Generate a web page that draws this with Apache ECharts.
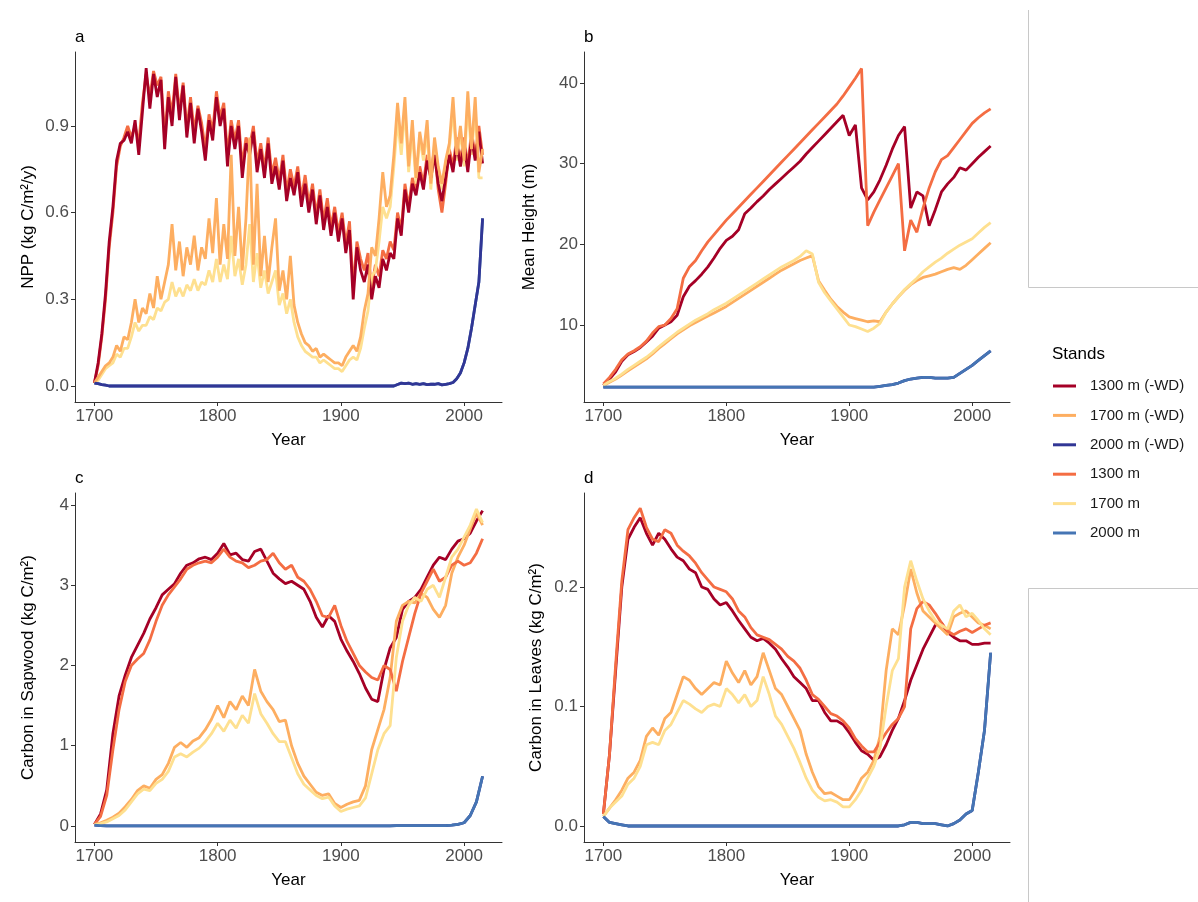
<!DOCTYPE html>
<html lang="en">
<head>
<meta charset="UTF-8">
<title>Stands</title>
<script src="https://cdn.jsdelivr.net/npm/echarts@6/dist/echarts.min.js"></script>
<style>
  * { padding: 0; margin: 0; }
  html, body { width: 100%; height: 100%; background: #fff; }
  #chart { width: 1198px; height: 902px; }
</style>
</head>
<body>
<div id="chart"></div>
<script>
// NPP panel is sampled every 3 years, the others every 5 years
var yearsA = [
  1700, 1703, 1706, 1709, 1712, 1715, 1718, 1721, 1724, 1727,
  1730, 1733, 1736, 1739, 1742, 1745, 1748, 1751, 1754, 1757,
  1760, 1763, 1766, 1769, 1772, 1775, 1778, 1781, 1784, 1787,
  1790, 1793, 1796, 1799, 1802, 1805, 1808, 1811, 1814, 1817,
  1820, 1823, 1826, 1829, 1832, 1835, 1838, 1841, 1844, 1847,
  1850, 1853, 1856, 1859, 1862, 1865, 1868, 1871, 1874, 1877,
  1880, 1883, 1886, 1889, 1892, 1895, 1898, 1901, 1904, 1907,
  1910, 1913, 1916, 1919, 1922, 1925, 1928, 1931, 1934, 1937,
  1940, 1943, 1946, 1949, 1952, 1955, 1958, 1961, 1964, 1967,
  1970, 1973, 1976, 1979, 1982, 1985, 1988, 1991, 1994, 1997,
  2000, 2003, 2006, 2009, 2012, 2015
];
var years = [
  1700, 1705, 1710, 1715, 1720, 1725, 1730, 1735, 1740, 1745,
  1750, 1755, 1760, 1765, 1770, 1775, 1780, 1785, 1790, 1795,
  1800, 1805, 1810, 1815, 1820, 1825, 1830, 1835, 1840, 1845,
  1850, 1855, 1860, 1865, 1870, 1875, 1880, 1885, 1890, 1895,
  1900, 1905, 1910, 1915, 1920, 1925, 1930, 1935, 1940, 1945,
  1950, 1955, 1960, 1965, 1970, 1975, 1980, 1985, 1990, 1995,
  2000, 2005, 2010, 2015
];
var stands = ['1300 m (-WD)', '1700 m (-WD)', '2000 m (-WD)', '1300 m', '1700 m', '2000 m'];
var colors = ['#A50026', '#FDAE61', '#313695', '#F46D43', '#FEE090', '#4575B4'];
var xTicks = [1700, 1800, 1900, 2000];

// a: NPP (kg C/m2/y), 3-year steps
var nppWD1300 = [
  0.01, 0.08, 0.18, 0.32, 0.50, 0.62, 0.78, 0.84, 0.85, 0.88,
  0.84, 0.92, 0.80, 0.95, 1.10, 0.96, 1.08, 1.00, 1.06, 0.82,
  1.00, 0.90, 1.07, 0.92, 1.04, 0.86, 0.98, 0.84, 0.96, 0.88,
  0.78, 0.92, 0.85, 1.00, 0.90, 0.96, 0.76, 0.90, 0.82, 0.90,
  0.72, 0.84, 0.80, 0.88, 0.74, 0.82, 0.72, 0.84, 0.70, 0.76,
  0.68, 0.78, 0.64, 0.72, 0.66, 0.74, 0.62, 0.70, 0.60, 0.68,
  0.56, 0.66, 0.54, 0.62, 0.52, 0.60, 0.50, 0.58, 0.46, 0.54,
  0.30, 0.48, 0.40, 0.36, 0.42, 0.30, 0.38, 0.34, 0.44, 0.40,
  0.46, 0.44, 0.58, 0.52, 0.68, 0.60, 0.70, 0.66, 0.74, 0.68,
  0.78, 0.72, 0.80, 0.70, 0.64, 0.72, 0.80, 0.74, 0.84, 0.76,
  0.84, 0.74, 0.86, 0.78, 0.88, 0.77
];
var nppWD1700 = [
  0.01, 0.03, 0.05, 0.07, 0.08, 0.10, 0.14, 0.12, 0.17, 0.16,
  0.22, 0.30, 0.22, 0.27, 0.25, 0.32, 0.27, 0.38, 0.30, 0.36,
  0.42, 0.56, 0.40, 0.50, 0.38, 0.48, 0.42, 0.52, 0.40, 0.48,
  0.44, 0.58, 0.46, 0.65, 0.42, 0.56, 0.44, 0.80, 0.45, 0.62,
  0.40, 0.58, 0.86, 0.42, 0.70, 0.38, 0.52, 0.36, 0.48, 0.58,
  0.33, 0.40, 0.30, 0.45, 0.28, 0.22, 0.18, 0.15, 0.14, 0.12,
  0.13, 0.10, 0.11, 0.10, 0.09, 0.08, 0.08, 0.07, 0.10, 0.12,
  0.14, 0.12, 0.17, 0.26, 0.32, 0.48, 0.45, 0.58, 0.74, 0.62,
  0.66, 0.80, 0.98, 0.84, 1.00, 0.76, 0.92, 0.72, 0.88, 0.80,
  0.92, 0.70, 0.86, 0.76, 0.70, 0.78, 0.84, 1.00, 0.80, 0.90,
  0.78, 1.02, 0.82, 1.00, 0.74, 0.82
];
var nppWD2000 = [
  0.01, 0.008, 0.005, 0.003, 0, 0, 0, 0, 0, 0,
  0, 0, 0, 0, 0, 0, 0, 0, 0, 0,
  0, 0, 0, 0, 0, 0, 0, 0, 0, 0,
  0, 0, 0, 0, 0, 0, 0, 0, 0, 0,
  0, 0, 0, 0, 0, 0, 0, 0, 0, 0,
  0, 0, 0, 0, 0, 0, 0, 0, 0, 0,
  0, 0, 0, 0, 0, 0, 0, 0, 0, 0,
  0, 0, 0, 0, 0, 0, 0, 0, 0, 0,
  0, 0, 0.005, 0.01, 0.008, 0.01, 0.006, 0.008, 0.006, 0.008,
  0.005, 0.006, 0.006, 0.008, 0.004, 0.006, 0.008, 0.012, 0.025, 0.045,
  0.08, 0.13, 0.20, 0.28, 0.36, 0.58
];
var npp1300 = [
  0.01, 0.07, 0.17, 0.30, 0.48, 0.60, 0.76, 0.83, 0.86, 0.90,
  0.86, 0.90, 0.84, 0.98, 1.08, 1.00, 1.09, 1.04, 1.07, 0.86,
  1.02, 0.94, 1.08, 0.95, 1.05, 0.89, 1.00, 0.88, 0.97, 0.91,
  0.82, 0.94, 0.88, 1.02, 0.93, 0.98, 0.80, 0.92, 0.85, 0.92,
  0.76, 0.86, 0.83, 0.90, 0.77, 0.84, 0.75, 0.86, 0.73, 0.79,
  0.71, 0.80, 0.67, 0.75, 0.69, 0.76, 0.65, 0.73, 0.63, 0.70,
  0.59, 0.68, 0.57, 0.65, 0.55, 0.62, 0.53, 0.60, 0.49, 0.57,
  0.34, 0.50, 0.44, 0.40, 0.46, 0.34, 0.42, 0.38, 0.47, 0.44,
  0.50, 0.47, 0.60, 0.54, 0.70, 0.62, 0.72, 0.68, 0.76, 0.70,
  0.80, 0.74, 0.82, 0.68, 0.60, 0.70, 0.82, 0.76, 0.86, 0.78,
  0.86, 0.76, 0.88, 0.80, 0.90, 0.80
];
var npp1700 = [
  0.01, 0.02, 0.04, 0.06, 0.07, 0.08, 0.11, 0.10, 0.13, 0.13,
  0.17, 0.22, 0.19, 0.21, 0.21, 0.24, 0.23, 0.27, 0.26, 0.29,
  0.30, 0.36, 0.31, 0.34, 0.31, 0.35, 0.33, 0.37, 0.33, 0.36,
  0.35, 0.40, 0.36, 0.44, 0.36, 0.42, 0.37, 0.52, 0.38, 0.44,
  0.35, 0.42, 0.56, 0.36, 0.46, 0.34, 0.40, 0.32, 0.36, 0.40,
  0.28, 0.32, 0.25, 0.30, 0.22, 0.17, 0.14, 0.12, 0.11, 0.10,
  0.10, 0.08, 0.09, 0.08, 0.07, 0.06, 0.06, 0.05, 0.07, 0.09,
  0.10, 0.09, 0.13, 0.20, 0.26, 0.38, 0.40, 0.50, 0.62, 0.58,
  0.62, 0.76, 0.92, 0.80, 0.96, 0.74, 0.88, 0.70, 0.86, 0.78,
  0.88, 0.68, 0.84, 0.74, 0.68, 0.76, 0.82, 0.96, 0.78, 0.88,
  0.76, 0.98, 0.80, 0.96, 0.72, 0.72
];
var npp2000 = [
  0.01, 0.008, 0.005, 0.003, 0, 0, 0, 0, 0, 0,
  0, 0, 0, 0, 0, 0, 0, 0, 0, 0,
  0, 0, 0, 0, 0, 0, 0, 0, 0, 0,
  0, 0, 0, 0, 0, 0, 0, 0, 0, 0,
  0, 0, 0, 0, 0, 0, 0, 0, 0, 0,
  0, 0, 0, 0, 0, 0, 0, 0, 0, 0,
  0, 0, 0, 0, 0, 0, 0, 0, 0, 0,
  0, 0, 0, 0, 0, 0, 0, 0, 0, 0,
  0, 0, 0.005, 0.01, 0.008, 0.01, 0.006, 0.008, 0.006, 0.008,
  0.005, 0.006, 0.006, 0.008, 0.004, 0.006, 0.008, 0.012, 0.025, 0.045,
  0.08, 0.13, 0.20, 0.28, 0.36, 0.58
];

// b: mean height (m)
var hgtWD1300 = [
  2.5, 3.3, 4.2, 5.5, 6.3, 6.7, 7.2, 7.9, 8.6, 9.6,
  10.0, 10.4, 11.2, 13.5, 14.8, 15.5, 16.3, 17.2, 18.3, 19.5,
  20.5, 21.0, 21.8, 23.8, 24.5, 25.3, 26.0, 26.8, 27.5, 28.2,
  28.9, 29.6, 30.3, 31.2, 32.0, 32.8, 33.6, 34.4, 35.2, 36.0,
  33.5, 34.8, 27.0, 25.5, 26.5, 28.0, 29.8, 31.8, 33.5, 34.6,
  24.5, 26.5, 26.0, 22.3, 24.3, 26.5, 27.5, 28.3, 29.5, 29.2,
  30.0, 30.8, 31.5, 32.2
];
var hgtWD1700 = [
  2.5, 2.9, 3.3, 3.8, 4.3, 4.8, 5.3, 5.8, 6.4, 7.1,
  7.7, 8.3, 8.9, 9.4, 9.9, 10.3, 10.7, 11.1, 11.5, 11.9,
  12.3, 12.8, 13.3, 13.8, 14.3, 14.8, 15.3, 15.8, 16.3, 16.8,
  17.2, 17.6, 18.0, 18.3, 18.6, 15.5, 14.3, 13.2, 12.3, 11.6,
  11.0, 10.8, 10.6, 10.4, 10.5, 10.4, 11.6, 12.6, 13.5, 14.3,
  15.0, 15.5, 15.9, 16.1, 16.3, 16.6, 16.9, 17.1, 16.9, 17.4,
  18.1, 18.8, 19.5, 20.2
];
var hgtWD2000 = [
  2.3, 2.3, 2.3, 2.3, 2.3, 2.3, 2.3, 2.3, 2.3, 2.3,
  2.3, 2.3, 2.3, 2.3, 2.3, 2.3, 2.3, 2.3, 2.3, 2.3,
  2.3, 2.3, 2.3, 2.3, 2.3, 2.3, 2.3, 2.3, 2.3, 2.3,
  2.3, 2.3, 2.3, 2.3, 2.3, 2.3, 2.3, 2.3, 2.3, 2.3,
  2.3, 2.3, 2.3, 2.3, 2.3, 2.4, 2.5, 2.6, 2.8, 3.1,
  3.3, 3.4, 3.5, 3.5, 3.4, 3.4, 3.4, 3.5, 4.0, 4.5,
  5.0, 5.6, 6.2, 6.8
];
var hgt1300 = [
  2.7, 3.5, 4.5, 5.7, 6.4, 6.8, 7.3, 8.0, 9.0, 9.8,
  10.0, 10.8, 12.0, 15.8, 17.2, 18.0, 19.2, 20.3, 21.2, 22.1,
  23.0, 23.8, 24.6, 25.4, 26.2, 27.0, 27.8, 28.6, 29.4, 30.2,
  31.0, 31.8, 32.6, 33.4, 34.2, 35.0, 35.8, 36.6, 37.4, 38.4,
  39.5, 40.6, 41.8, 22.3, 24.0, 25.5, 27.0, 28.5, 30.0, 19.2,
  23.0, 21.5, 24.5, 27.0, 29.0, 30.5, 31.0, 32.0, 33.0, 34.0,
  35.0, 35.7, 36.3, 36.8
];
var hgt1700 = [
  2.5, 3.0, 3.4, 3.9, 4.5, 5.0, 5.5, 6.0, 6.6, 7.3,
  7.9, 8.5, 9.1, 9.6, 10.1, 10.6, 11.0, 11.4, 11.9, 12.3,
  12.7, 13.2, 13.7, 14.2, 14.7, 15.2, 15.7, 16.2, 16.7, 17.2,
  17.6, 18.0, 18.5, 19.2, 18.8, 15.3, 14.0, 13.0, 12.0, 11.0,
  10.0, 9.8, 9.5, 9.2, 9.6, 10.2, 11.6, 12.6, 13.5, 14.4,
  15.1, 15.8, 16.6, 17.2, 17.8, 18.3, 18.9, 19.4, 19.9, 20.3,
  20.7, 21.4, 22.1, 22.7
];
var hgt2000 = [
  2.3, 2.3, 2.3, 2.3, 2.3, 2.3, 2.3, 2.3, 2.3, 2.3,
  2.3, 2.3, 2.3, 2.3, 2.3, 2.3, 2.3, 2.3, 2.3, 2.3,
  2.3, 2.3, 2.3, 2.3, 2.3, 2.3, 2.3, 2.3, 2.3, 2.3,
  2.3, 2.3, 2.3, 2.3, 2.3, 2.3, 2.3, 2.3, 2.3, 2.3,
  2.3, 2.3, 2.3, 2.3, 2.3, 2.4, 2.5, 2.6, 2.8, 3.1,
  3.3, 3.4, 3.5, 3.5, 3.4, 3.4, 3.4, 3.5, 4.0, 4.5,
  5.0, 5.6, 6.2, 6.8
];

// c: carbon in sapwood (kg C/m2)
var sapWD1300 = [
  0.02, 0.15, 0.45, 1.15, 1.62, 1.88, 2.10, 2.25, 2.40, 2.58,
  2.72, 2.88, 2.95, 3.02, 3.15, 3.25, 3.28, 3.33, 3.35, 3.32,
  3.40, 3.52, 3.38, 3.40, 3.32, 3.30, 3.42, 3.45, 3.30, 3.15,
  3.08, 3.02, 3.05, 3.00, 2.95, 2.80, 2.60, 2.48, 2.62, 2.55,
  2.33, 2.18, 2.05, 1.90, 1.72, 1.58, 1.55, 1.95, 2.22, 2.35,
  2.70, 2.80, 2.85, 2.95, 3.10, 3.25, 3.35, 3.32, 3.45, 3.55,
  3.58, 3.65, 3.80, 3.93
];
var sapWD1700 = [
  0.02, 0.04, 0.07, 0.11, 0.16, 0.24, 0.33, 0.44, 0.50, 0.47,
  0.58, 0.64, 0.78, 0.98, 1.04, 0.98, 1.06, 1.10, 1.20, 1.33,
  1.50, 1.35, 1.55, 1.45, 1.62, 1.50, 1.95, 1.68, 1.55, 1.45,
  1.30, 1.32, 1.00, 0.78, 0.62, 0.52, 0.42, 0.38, 0.40, 0.28,
  0.23, 0.27, 0.30, 0.32, 0.50, 0.95, 1.20, 1.45, 1.85, 2.55,
  2.75, 2.80, 2.78, 2.90, 2.85, 2.70, 2.60, 2.75, 3.15, 3.35,
  3.50, 3.70, 3.90, 3.75
];
var sapWD2000 = [
  0.01, 0.005, 0, 0, 0, 0, 0, 0, 0, 0,
  0, 0, 0, 0, 0, 0, 0, 0, 0, 0,
  0, 0, 0, 0, 0, 0, 0, 0, 0, 0,
  0, 0, 0, 0, 0, 0, 0, 0, 0, 0,
  0, 0, 0, 0, 0, 0, 0, 0, 0, 0.005,
  0.005, 0.005, 0.005, 0.005, 0.005, 0.005, 0.005, 0.005, 0.01, 0.02,
  0.04, 0.13, 0.30, 0.62
];
var sap1300 = [
  0.02, 0.12, 0.38, 0.95, 1.45, 1.80, 2.00, 2.08, 2.15, 2.32,
  2.55, 2.75, 2.88, 2.98, 3.08, 3.20, 3.25, 3.28, 3.30, 3.28,
  3.35, 3.45, 3.35, 3.30, 3.28, 3.22, 3.25, 3.30, 3.32, 3.40,
  3.28, 3.20, 3.25, 3.10, 3.05, 2.95, 2.80, 2.62, 2.60, 2.75,
  2.50, 2.30, 2.15, 2.00, 1.92, 1.85, 1.82, 2.00, 1.95, 1.68,
  2.05, 2.35, 2.65, 2.90, 3.05, 3.20, 3.05, 3.10, 3.25, 3.30,
  3.25, 3.28, 3.40, 3.58
];
var sap1700 = [
  0.02, 0.03, 0.05, 0.09, 0.13, 0.20, 0.30, 0.40, 0.46, 0.44,
  0.53, 0.58, 0.68, 0.86, 0.90, 0.86, 0.92, 0.97, 1.05, 1.15,
  1.28, 1.18, 1.32, 1.22, 1.38, 1.28, 1.65, 1.40, 1.28, 1.15,
  1.05, 1.05, 0.85, 0.65, 0.52, 0.45, 0.38, 0.34, 0.36, 0.25,
  0.18, 0.21, 0.23, 0.25, 0.35, 0.65, 0.95, 1.15, 1.25, 2.10,
  2.55, 2.75, 2.85, 2.80, 2.95, 3.00, 2.85, 3.10, 3.35, 3.45,
  3.60, 3.75, 3.95, 3.78
];
var sap2000 = [
  0.01, 0.005, 0, 0, 0, 0, 0, 0, 0, 0,
  0, 0, 0, 0, 0, 0, 0, 0, 0, 0,
  0, 0, 0, 0, 0, 0, 0, 0, 0, 0,
  0, 0, 0, 0, 0, 0, 0, 0, 0, 0,
  0, 0, 0, 0, 0, 0, 0, 0, 0, 0.005,
  0.005, 0.005, 0.005, 0.005, 0.005, 0.005, 0.005, 0.005, 0.01, 0.02,
  0.04, 0.13, 0.30, 0.62
];

// d: carbon in leaves (kg C/m2)
var leafWD1300 = [
  0.010, 0.060, 0.130, 0.200, 0.240, 0.250, 0.258, 0.245, 0.235, 0.245,
  0.240, 0.232, 0.225, 0.222, 0.215, 0.212, 0.200, 0.198, 0.190, 0.185,
  0.187, 0.180, 0.172, 0.165, 0.158, 0.155, 0.157, 0.153, 0.148, 0.140,
  0.133, 0.125, 0.120, 0.115, 0.105, 0.105, 0.095, 0.088, 0.088, 0.085,
  0.078, 0.070, 0.063, 0.060, 0.055, 0.058, 0.068, 0.080, 0.090, 0.105,
  0.122, 0.135, 0.148, 0.158, 0.168, 0.170, 0.162, 0.158, 0.155, 0.155,
  0.152, 0.152, 0.153, 0.153
];
var leafWD1700 = [
  0.008, 0.015, 0.022, 0.030, 0.040, 0.045, 0.055, 0.075, 0.082, 0.076,
  0.090, 0.095, 0.110, 0.125, 0.122, 0.115, 0.110, 0.115, 0.120, 0.118,
  0.138, 0.128, 0.120, 0.130, 0.118, 0.125, 0.145, 0.130, 0.115, 0.110,
  0.100, 0.090, 0.080, 0.060, 0.045, 0.033, 0.027, 0.028, 0.025, 0.022,
  0.022, 0.030, 0.040, 0.045, 0.055, 0.075, 0.130, 0.165, 0.160, 0.185,
  0.215, 0.195, 0.180, 0.175, 0.170, 0.165, 0.160, 0.175, 0.178, 0.180,
  0.175, 0.170, 0.168, 0.165
];
var leafWD2000 = [
  0.008, 0.003, 0.002, 0.001, 0, 0, 0, 0, 0, 0,
  0, 0, 0, 0, 0, 0, 0, 0, 0, 0,
  0, 0, 0, 0, 0, 0, 0, 0, 0, 0,
  0, 0, 0, 0, 0, 0, 0, 0, 0, 0,
  0, 0, 0, 0, 0, 0, 0, 0, 0, 0.001,
  0.003, 0.003, 0.002, 0.002, 0.002, 0.001, 0, 0.002, 0.005, 0.010,
  0.013, 0.045, 0.080, 0.145
];
var leaf1300 = [
  0.010, 0.060, 0.135, 0.205, 0.248, 0.258, 0.266, 0.250, 0.240, 0.238,
  0.248, 0.245, 0.235, 0.230, 0.226, 0.220, 0.212, 0.206, 0.200, 0.198,
  0.196, 0.190, 0.180, 0.175, 0.166, 0.160, 0.158, 0.156, 0.152, 0.148,
  0.142, 0.138, 0.132, 0.122, 0.110, 0.106, 0.100, 0.094, 0.092, 0.088,
  0.082, 0.073, 0.067, 0.062, 0.062, 0.070, 0.078, 0.085, 0.090, 0.100,
  0.165, 0.182, 0.188, 0.185, 0.178, 0.170, 0.163, 0.160, 0.163, 0.165,
  0.162, 0.165, 0.168, 0.170
];
var leaf1700 = [
  0.008, 0.015, 0.020, 0.025, 0.035, 0.040, 0.050, 0.068, 0.070, 0.068,
  0.080, 0.085, 0.095, 0.105, 0.102, 0.098, 0.095, 0.100, 0.102, 0.100,
  0.115, 0.110, 0.103, 0.110, 0.100, 0.105, 0.125, 0.110, 0.092, 0.085,
  0.075, 0.065, 0.053, 0.040, 0.030, 0.024, 0.021, 0.022, 0.020, 0.016,
  0.016, 0.022, 0.030, 0.040, 0.050, 0.065, 0.100, 0.130, 0.140, 0.200,
  0.222, 0.205, 0.190, 0.180, 0.172, 0.168, 0.165, 0.180, 0.185, 0.175,
  0.178, 0.172, 0.165, 0.160
];
var leaf2000 = [
  0.008, 0.003, 0.002, 0.001, 0, 0, 0, 0, 0, 0,
  0, 0, 0, 0, 0, 0, 0, 0, 0, 0,
  0, 0, 0, 0, 0, 0, 0, 0, 0, 0,
  0, 0, 0, 0, 0, 0, 0, 0, 0, 0,
  0, 0, 0, 0, 0, 0, 0, 0, 0, 0.001,
  0.003, 0.003, 0.002, 0.002, 0.002, 0.001, 0, 0.002, 0.005, 0.010,
  0.013, 0.045, 0.080, 0.145
];

var panels = [
  { letter: 'a', name: 'NPP (kg C/m\u00b2/y)', min: -0.0554, max: 1.156, ticks: [0, 0.3, 0.6, 0.9], digits: 1, gap: 38,
    grid: { left: 75, top: 52, width: 427, height: 350 }, wdOnTop: true, x: yearsA,
    data: [nppWD1300, nppWD1700, nppWD2000, npp1300, npp1700, npp2000] },
  { letter: 'b', name: 'Mean Height (m)', min: 0.45, max: 43.85, ticks: [10, 20, 30, 40], digits: 0, gap: 46,
    grid: { left: 584, top: 52, width: 426, height: 350 }, wdOnTop: false, x: years,
    data: [hgtWD1300, hgtWD1700, hgtWD2000, hgt1300, hgt1700, hgt2000] },
  { letter: 'c', name: 'Carbon in Sapwood (kg C/m\u00b2)', min: -0.2, max: 4.15, ticks: [0, 1, 2, 3, 4], digits: 0, gap: 38,
    grid: { left: 75, top: 493, width: 427, height: 349 }, wdOnTop: false, x: years,
    data: [sapWD1300, sapWD1700, sapWD2000, sap1300, sap1700, sap2000] },
  { letter: 'd', name: 'Carbon in Leaves (kg C/m\u00b2)', min: -0.0134, max: 0.2787, ticks: [0, 0.1, 0.2], digits: 1, gap: 39,
    grid: { left: 584, top: 493, width: 426, height: 349 }, wdOnTop: false, x: years,
    data: [leafWD1300, leafWD1700, leafWD2000, leaf1300, leaf1700, leaf2000] }
];

var axisColor = '#333333';
var labelColor = '#4d4d4d';
var grids = [], xAxes = [], yAxes = [], series = [], titles = [];

panels.forEach(function (p, gi) {
  grids.push(Object.assign({ outerBoundsMode: 'none', containLabel: false }, p.grid));
  titles.push({
    text: p.letter, left: p.grid.left, top: p.grid.top - 23, padding: 0,
    textStyle: { fontSize: 17, fontWeight: 'normal', color: '#000', fontFamily: 'Liberation Sans' }
  });
  xAxes.push({
    type: 'value', gridIndex: gi, min: 1684.25, max: 2030.75,
    name: 'Year', nameLocation: 'middle', nameGap: 30, nameMoveOverlap: false,
    nameTextStyle: { fontSize: 17, color: '#000', fontFamily: 'Liberation Sans' },
    axisLine: { show: true, onZero: false, lineStyle: { color: axisColor, width: 1 } },
    axisTick: { show: true, length: 4, customValues: xTicks, lineStyle: { color: axisColor } },
    axisLabel: {
      customValues: xTicks, fontSize: 17, color: labelColor, margin: 6, fontFamily: 'Liberation Sans',
      formatter: function (v) { return String(v); }
    },
    splitLine: { show: false }
  });
  yAxes.push({
    type: 'value', gridIndex: gi, min: p.min, max: p.max,
    name: p.name, nameLocation: 'middle', nameGap: p.gap, nameMoveOverlap: false,
    nameTextStyle: { fontSize: 17, color: '#000', fontFamily: 'Liberation Sans' },
    axisLine: { show: true, onZero: false, lineStyle: { color: axisColor, width: 1 } },
    axisTick: { show: true, length: 4, customValues: p.ticks, lineStyle: { color: axisColor } },
    axisLabel: {
      customValues: p.ticks, fontSize: 17, color: labelColor, margin: 6, fontFamily: 'Liberation Sans',
      formatter: function (v) { return v.toFixed(p.digits); }
    },
    splitLine: { show: false }
  });
  p.data.forEach(function (arr, k) {
    var isWd = k < 3;
    series.push({
      name: stands[k], type: 'line', xAxisIndex: gi, yAxisIndex: gi,
      data: p.x.map(function (y, i) { return [y, arr[i]]; }),
      showSymbol: false, symbol: 'none', color: colors[k],
      lineStyle: { width: 2.8, color: colors[k] },
      z: (isWd === p.wdOnTop) ? 3 : 2,
      silent: true
    });
  });
});

titles.push({
  text: 'Stands', left: 1052, top: 346, padding: 0,
  textStyle: { fontSize: 17, fontWeight: 'normal', color: '#000', fontFamily: 'Liberation Sans' }
});

var chart = echarts.init(document.getElementById('chart'));
chart.setOption({
  animation: false,
  backgroundColor: '#ffffff',
  title: titles,
  grid: grids,
  xAxis: xAxes,
  yAxis: yAxes,
  legend: {
    orient: 'vertical', left: 1053, top: 377.5, padding: 0,
    icon: 'rect', itemWidth: 23, itemHeight: 3, itemGap: 12.4,
    data: stands,
    textStyle: { fontSize: 15, color: '#1a1a1a', lineHeight: 17, padding: [0, 0, 0, 9], fontFamily: 'Liberation Sans' }
  },
  graphic: [
    { type: 'polyline', shape: { points: [[1028.5, 10], [1028.5, 287.5], [1198, 287.5]] },
      style: { stroke: '#c8c8c8', lineWidth: 1, fill: null } },
    { type: 'polyline', shape: { points: [[1198, 588.5], [1028.5, 588.5], [1028.5, 902]] },
      style: { stroke: '#c8c8c8', lineWidth: 1, fill: null } }
  ],
  series: series
});
</script>
</body>
</html>
